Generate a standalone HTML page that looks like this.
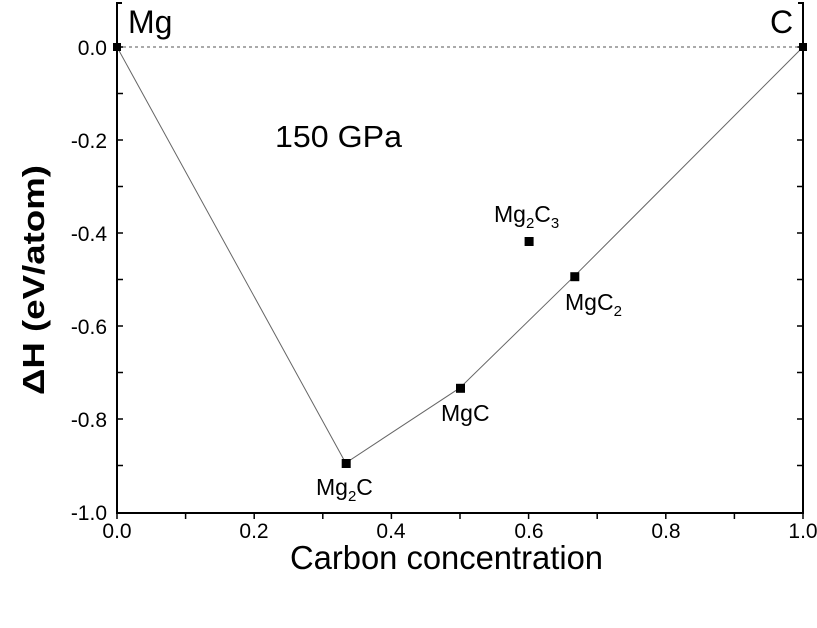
<!DOCTYPE html><html><head><style>body{margin:0;background:#fff}svg{display:block}text{font-family:"Liberation Sans",Arial,sans-serif;fill:#000}</style></head><body>
<svg width="817" height="628" viewBox="0 0 817 628">
<g stroke="#000" stroke-width="2" fill="none">
<path d="M122,3H117V513H803V3H798"/>
</g>
<g stroke="#000" stroke-width="1.5">
<path d="M117,47h6M117,93.5h6M117,140h6M117,186.5h6M117,233h6M117,279.5h6M117,326h6M117,372.5h6M117,419h6M117,465.5h6"/>
<path d="M803,47h-6M803,93.5h-6M803,140h-6M803,186.5h-6M803,233h-6M803,279.5h-6M803,326h-6M803,372.5h-6M803,419h-6M803,465.5h-6"/>
<path d="M117,513v6M185.6,513v6M254.2,513v6M322.8,513v6M391.4,513v6M460,513v6M528.6,513v6M597.2,513v6M665.8,513v6M734.4,513v6M803,513v6"/>
</g>
<line x1="117" y1="47" x2="803" y2="47" stroke="#555" stroke-width="1" stroke-dasharray="3,3"/>
<polyline points="117,47 345.7,463 460,387.8 574.3,276.2 803,47" fill="none" stroke="#666" stroke-width="1"/>
<g fill="#000">
<rect x="113" y="43" width="8" height="8"/><rect x="341.7" y="459" width="9" height="9"/><rect x="456" y="383.8" width="9" height="9"/><rect x="570.3" y="272.2" width="9" height="9"/><rect x="524.6" y="237" width="9" height="9"/><rect x="799" y="43" width="8" height="8"/>
</g>
<g font-size="21" text-anchor="end">
<text x="107" y="55">0.0</text><text x="107" y="148">-0.2</text><text x="107" y="241">-0.4</text><text x="107" y="334">-0.6</text><text x="107" y="427">-0.8</text><text x="107" y="520">-1.0</text>
</g>
<g font-size="21" text-anchor="middle">
<text x="117" y="538">0.0</text><text x="254" y="538">0.2</text><text x="391" y="538">0.4</text><text x="529" y="538">0.6</text><text x="666" y="538">0.8</text><text x="803" y="538">1.0</text>
</g>
<text x="290" y="569" font-size="33" textLength="313" lengthAdjust="spacingAndGlyphs">Carbon concentration</text>
<text transform="translate(44,395) rotate(-90)" font-size="31" font-weight="bold" textLength="230" lengthAdjust="spacingAndGlyphs">ΔH (eV/atom)</text>
<text x="128" y="33" font-size="32">Mg</text>
<text x="770" y="33" font-size="32">C</text>
<text x="275" y="147" font-size="31" textLength="127" lengthAdjust="spacingAndGlyphs">150 GPa</text>
<g font-size="23">
<text x="316" y="495">Mg<tspan font-size="15" dy="6">2</tspan><tspan dy="-6">C</tspan></text>
<text x="441" y="421">MgC</text>
<text x="565" y="310">MgC<tspan font-size="15" dy="6">2</tspan></text>
<text x="494" y="222">Mg<tspan font-size="15" dy="6">2</tspan><tspan dy="-6">C</tspan><tspan font-size="15" dy="6">3</tspan></text>
</g>
</svg></body></html>
